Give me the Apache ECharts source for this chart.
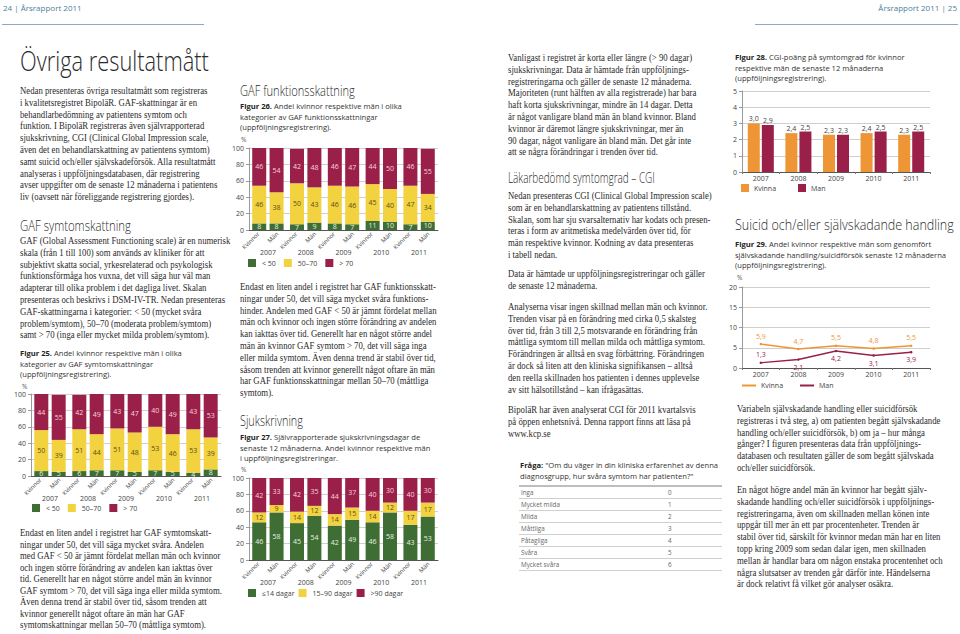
<!DOCTYPE html>
<html><head><meta charset="utf-8">
<script src="https://cdn.jsdelivr.net/npm/echarts@6/dist/echarts.min.js"></script>
<style>html,body{margin:0;padding:0;background:#fff}#c{width:960px;height:634px}</style>
</head><body><div id="c"></div>
<script>
// ---------------- DATA ----------------
const years = ['2007','2008','2009','2010','2011'];
const sexLabels = ['Kvinnor','Män','Kvinnor','Män','Kvinnor','Män','Kvinnor','Män','Kvinnor','Män'];
const gafNames = ['< 50','50–70','> 70'];
const sickNames = ['≤14 dagar','15–90 dagar','>90 dagar'];
const cgiNames = ['Kvinna','Man'];
const pctTicks = [0,20,40,60,80,100];

// Figur 25 – GAF symtomskattning (Kvinnor / Män per år)
const fig25KvinnorUnder50 = [6,6,7,7,4];
const fig25ManUnder50     = [5,7,5,5,8];
const fig25Kvinnor50to70  = [50,51,51,53,53];
const fig25Man50to70      = [39,44,48,46,39];
const fig25KvinnorOver70  = [44,42,43,40,43];
const fig25ManOver70      = [55,49,47,49,53];

// Figur 26 – GAF funktionsskattning
const fig26KvinnorUnder50 = [8,7,8,11,7];
const fig26ManUnder50     = [8,9,7,10,10];
const fig26Kvinnor50to70  = [46,50,46,45,47];
const fig26Man50to70      = [38,43,46,40,34];
const fig26KvinnorOver70  = [46,42,46,44,46];
const fig26ManOver70      = [54,48,47,50,55];

// Figur 27 – Sjukskrivningsdagar
const fig27KvinnorUpTo14  = [46,45,42,46,43];
const fig27ManUpTo14      = [58,54,49,58,53];
const fig27Kvinnor15to90  = [12,14,14,14,17];
const fig27Man15to90      = [9,12,15,12,17];
const fig27KvinnorOver90  = [42,42,44,40,40];
const fig27ManOver90      = [33,35,37,30,30];

// Figur 28 – CGI-poäng
const fig28Kvinna = [3.0,2.4,2.3,2.4,2.3];
const fig28Man    = [2.9,2.5,2.3,2.5,2.5];
const fig28Ticks  = [0,1,2,3,4,5];

// Figur 29 – Självskadande handling/suicidförsök (%)
const fig29Kvinna = [5.9,4.7,5.5,4.8,5.5];
const fig29Man    = [1.3,2.1,4.2,3.1,3.9];
const fig29Ticks  = [0,5,10,15,20];

// CGI-tabell
const cgiScaleLabels = ['Inga','Mycket milda','Milda','Måttliga','Påtagliga','Svåra','Mycket svåra'];
const cgiScaleValues = [0,1,2,3,4,5,6];

// ---------------- TEXT ----------------
const headerLeft = '24 | Årsrapport 2011';
const headerRight = 'Årsrapport 2011 | 25';
const titleMain = 'Övriga resultatmått';
const pLeft1 = ['Nedan presenteras övriga resultatmått som registreras','i kvalitetsregistret BipoläR. GAF-skattningar är en','behandlarbedömning av patientens symtom och','funktion. I BipoläR registreras även självrapporterad','sjukskrivning, CGI (Clinical Global Impression scale,','även det en behandlarskattning av patientens symtom)','samt suicid och/eller självskadeförsök. Alla resultatmått','analyseras i uppföljningsdatabasen, där registrering','avser uppgifter om de senaste 12 månaderna i patientens','liv (oavsett när föreliggande registrering gjordes).'];
const hGafSym = 'GAF symtomskattning';
const pLeft2 = ['GAF (Global Assessment Functioning scale) är en numerisk','skala (från 1 till 100) som används av kliniker för att','subjektivt skatta social, yrkesrelaterad och psykologisk','funktionsförmåga hos vuxna, det vill säga hur väl man','adapterar till olika problem i det dagliga livet. Skalan','presenteras och beskrivs i DSM-IV-TR. Nedan presenteras','GAF-skattningarna i kategorier: < 50 (mycket svåra','problem/symtom), 50–70 (moderata problem/symtom)','samt > 70 (inga eller mycket milda problem/symtom).'];
const cap25 = ['Andel kvinnor respektive män i olika','kategorier av GAF symtomskattningar','(uppföljningsregistrering).'];
const pLeft3 = ['Endast en liten andel i registret har GAF symtomskatt-','ningar under 50, det vill säga mycket svåra. Andelen','med GAF < 50 är jämnt fördelat mellan män och kvinnor','och ingen större förändring av andelen kan iakttas över','tid. Generellt har en något större andel män än kvinnor','GAF symtom > 70, det vill säga inga eller milda symtom.','Även denna trend är stabil över tid, såsom trenden att','kvinnor generellt något oftare än män har GAF','symtomskattningar mellan 50–70 (måttliga symtom).'];
const hGafFunk = 'GAF funktionsskattning';
const cap26 = ['Andel kvinnor respektive män i olika','kategorier av GAF funktionsskattningar','(uppföljningsregistrering).'];
const pMid1 = ['Endast en liten andel i registret har GAF funktionsskatt-','ningar under 50, det vill säga mycket svåra funktions-','hinder. Andelen med GAF < 50 är jämnt fördelat mellan','män och kvinnor och ingen större förändring av andelen','kan iakttas över tid. Generellt har en något större andel','män än kvinnor GAF symtom > 70, det vill säga inga','eller milda symtom. Även denna trend är stabil över tid,','såsom trenden att kvinnor generellt något oftare än män','har GAF funktionsskattningar mellan 50–70 (måttliga','symtom).'];
const hSjuk = 'Sjukskrivning';
const cap27 = ['Självrapporterade sjukskrivningsdagar de','senaste 12 månaderna. Andel kvinnor respektive män','i uppföljningsregistreringar.'];
const pThird1 = ['Vanligast i registret är korta eller längre (> 90 dagar)','sjukskrivningar. Data är hämtade från uppföljnings-','registreringarna och gäller de senaste 12 månaderna.','Majoriteten (runt hälften av alla registrerade) har bara','haft korta sjukskrivningar, mindre än 14 dagar. Detta','är något vanligare bland män än bland kvinnor. Bland','kvinnor är däremot längre sjukskrivningar, mer än','90 dagar, något vanligare än bland män. Det går inte','att se några förändringar i trenden över tid.'];
const hCgi = 'Läkarbedömd symtomgrad – CGI';
const pThird2 = ['Nedan presenteras CGI (Clinical Global Impression scale)','som är en behandlarskattning av patientens tillstånd.','Skalan, som har sju svarsalternativ har kodats och presen-','teras i form av aritmetiska medelvärden över tid, för','män respektive kvinnor. Kodning av data presenteras','i tabell nedan.'];
const pThird3 = ['Data är hämtade ur uppföljningsregistreringar och gäller','de senaste 12 månaderna.'];
const pThird4 = ['Analyserna visar ingen skillnad mellan män och kvinnor.','Trenden visar på en förändring med cirka 0,5 skalsteg','över tid, från 3 till 2,5 motsvarande en förändring från','måttliga symtom till mellan milda och måttliga symtom.','Förändringen är alltså en svag förbättring. Förändringen','är dock så liten att den kliniska signifikansen – alltså','den reella skillnaden hos patienten i dennes upplevelse','av sitt hälsotillstånd – kan ifrågasättas.'];
const pThird5 = ['BipoläR har även analyserat CGI för 2011 kvartalsvis','på öppen enhetsnivå. Denna rapport finns att läsa på','www.kcp.se'];
const questionLines = ['"Om du väger in din kliniska erfarenhet av denna','diagnosgrupp, hur svåra symtom har patienten?"'];
const cap28 = ['CGI-poäng på symtomgrad för kvinnor','respektive män de senaste 12 månaderna','(uppföljningsregistrering).'];
const hSuicid = 'Suicid och/eller självskadande handling';
const cap29 = ['Andel kvinnor respektive män som genomfört','självskadande handling/suicidförsök senaste 12 månaderna','(uppföljningsregistrering).'];
const pRight1 = ['Variabeln självskadande handling eller suicidförsök','registreras i två steg, a) om patienten begått självskadande','handling och/eller suicidförsök, b) om ja – hur många','gånger? I figuren presenteras data från uppföljnings-','databasen och resultaten gäller de som begått självskada','och/eller suicidförsök.'];
const pRight2 = ['En något högre andel män än kvinnor har begått själv-','skadande handling och/eller suicidförsök i uppföljnings-','registreringarna, även om skillnaden mellan könen inte','uppgår till mer än ett par procentenheter. Trenden är','stabil över tid, särskilt för kvinnor medan män har en liten','topp kring 2009 som sedan dalar igen, men skillnaden','mellan år handlar bara om någon enstaka procentenhet och','några slutsatser av trenden går därför inte. Händelserna','är dock relativt få vilket gör analyser osäkra.'];

// ---------------- STYLE ----------------
const SERIF = '"Liberation Serif", "DejaVu Serif", serif';
const SANS = '"Open Sans", "Liberation Sans", sans-serif';
const HEAD = '"Open Sans", "Liberation Sans", sans-serif';
const GREEN = '#3e6e34', YELLOW = '#f2d23f', MAROON = '#9b2049', ORANGE = '#ee9636';
const stackColors = [GREEN, YELLOW, MAROON];
const stackLabelColors = ['#e8f0e2', '#5e4f16', '#f6d3dc'];
const LH = 11.8, BODY = 9.3, BODYSX = 0.94, CAP = 7.6, CAPLH = 10.6;

const mctx = document.createElement('canvas').getContext('2d');
function fit(text, font, target) { mctx.font = font; return target / mctx.measureText(text).width; }

const graphics = [];
function body(x, firstCenter, lines, lh) {
  const h = lh || LH;
  graphics.push({type:'text', x:x, y:firstCenter - h/2, scaleX: BODYSX, silent:true,
    style:{text: lines.join('\n'), fontFamily: SERIF, fontSize: BODY, fill:'#2b2b2b', lineHeight: h, verticalAlign:'top', align:'left'}});
}
function heading(x, center, text, size, width) {
  const sx = fit(text, '300 ' + size + 'px ' + HEAD, width);
  graphics.push({type:'text', x:x, y:center, scaleX: sx, silent:true,
    style:{text:text, fontFamily: HEAD, fontWeight: 300, fontSize:size, fill:'#2a2a2a', verticalAlign:'middle', align:'left'}});
}
function caption(x, firstCenter, label, lines) {
  graphics.push({type:'text', x:x, y:firstCenter - CAPLH/2, silent:true,
    style:{text: '{b|' + label + '} ' + lines.join('\n'), fontFamily: SANS, fontSize: CAP, fill:'#333', lineHeight: CAPLH, verticalAlign:'top', align:'left',
      rich:{b:{fontFamily: SANS, fontSize: CAP, fontWeight:'bold', fill:'#222', lineHeight: CAPLH}}}});
}
function small(x, y, text, opt) {
  graphics.push({type:'text', x:x, y:y, silent:true,
    style:Object.assign({text:text, fontFamily: SANS, fontSize: 6.5, fill:'#555', verticalAlign:'middle', align:'left'}, opt||{})});
}
function hline(x1, x2, y, color, w) {
  graphics.push({type:'line', silent:true, shape:{x1:x1, y1:y, x2:x2, y2:y}, style:{stroke:color, lineWidth:w}});
}

// header
small(3, 7, headerLeft, {fontSize: 8, fill:'#4a8199'});
small(957, 7, headerRight, {fontSize: 8, fill:'#4a8199', align:'right'});
hline(2, 204, 24.5, '#86aebf', 1.2);
hline(755, 958, 24.5, '#86aebf', 1.2);

// left column
heading(20, 61, titleMain, 27, 189);
body(20, 91, pLeft1);
heading(20, 226, hGafSym, 14, 111);
body(20, 241, pLeft2);
caption(20, 353, 'Figur 25.', cap25);
small(22, 386, '%');
body(20, 533, pLeft3, 11.5);

// middle column
heading(240, 90, hGafFunk, 14, 115);
caption(240, 106, 'Figur 26.', cap26);
small(241, 139, '%');
body(240, 287, pMid1);
heading(240, 421, hSjuk, 14, 63);
caption(240, 437, 'Figur 27.', cap27);
small(241, 469, '%');

// third column
body(508, 58, pThird1);
heading(508, 178, hCgi, 14, 147);
body(508, 196, pThird2);
body(508, 274, pThird3);
body(508, 307, pThird4);
body(508, 410, pThird5);
caption(520, 465, 'Fråga:', questionLines);
hline(519, 722, 486, '#a8a8a8', 1.6);
cgiScaleLabels.forEach((l, i) => {
  small(521, 492 + 12*i, l, {fill:'#666', fontSize: 6.3});
  small(668, 492 + 12*i, String(cgiScaleValues[i]), {fill:'#666', fontSize: 6.3});
  hline(519, 722, 498.5 + 12*i, '#c4c4c4', 0.8);
});

// right column
caption(735, 57, 'Figur 28.', cap28);
heading(735, 225, hSuicid, 14, 219);
caption(735, 244, 'Figur 29.', cap29);
small(737, 277, '%');
body(737, 409, pRight1);
body(737, 490, pRight2);

// ---------------- CHARTS ----------------
const grids = [
  {left:31, top:394, width:190, height:82},   // fig 25
  {left:249, top:148, width:189, height:82},  // fig 26
  {left:249, top:478, width:189, height:82},  // fig 27
  {left:742, top:91, width:188, height:81},   // fig 28
  {left:742, top:287, width:188, height:81}   // fig 29
].map(g => Object.assign({containLabel:false, outerBoundsMode:'none'}, g));

const xAxes = [], yAxes = [], series = [], legends = [];
const axisText = {fontFamily: SANS, fontSize: 7, color:'#444'};

function pctYAxis(gi) {
  yAxes.push({type:'value', gridIndex:gi, min:pctTicks[0], max:pctTicks[pctTicks.length-1], interval:20,
    axisLine:{show:true, lineStyle:{color:'#9a9a9a', width:1}},
    axisTick:{show:true, length:3, lineStyle:{color:'#9a9a9a'}},
    axisLabel:Object.assign({margin:5}, axisText),
    splitLine:{show:true, lineStyle:{color:'#cfcfcf', width:1}}});
  return yAxes.length - 1;
}

function stackedFigure(gi, key, names, kArrs, mArrs, legendPos, legendGap) {
  xAxes.push({type:'category', gridIndex:gi, data:years, position:'bottom',
    axisLine:{show:true, lineStyle:{color:'#555', width:1}}, axisTick:{show:false},
    axisLabel:Object.assign({margin:19, interval:0}, axisText)});
  const xi = xAxes.length - 1;
  xAxes.push({type:'category', gridIndex:gi, data:sexLabels, position:'bottom',
    axisLine:{show:false}, axisTick:{show:false}, splitLine:{show:false},
    axisLabel:Object.assign({margin:3, interval:0, rotate:45}, axisText, {fontSize:6})});
  const yi = pctYAxis(gi);
  for (let c = 0; c < 3; c++) {
    [['K', kArrs[c]], ['M', mArrs[c]]].forEach(([s, arr]) => {
      series.push({type:'bar', name:names[c], xAxisIndex:xi, yAxisIndex:yi, stack:key + s, data:arr,
        barWidth:14, barGap:'24%', itemStyle:{color:stackColors[c]},
        label:{show:true, position:'inside', fontFamily:SANS, fontSize:7, color:stackLabelColors[c]},
        emphasis:{disabled:true}});
    });
  }
  legends.push({data:names, left:legendPos[0], top:legendPos[1], orient:'horizontal', icon:'rect',
    itemWidth:8, itemHeight:8, itemGap:legendGap, selectedMode:false, padding:0,
    textStyle:{fontFamily:SANS, fontSize:7, color:'#444', padding:[0,0,0,1]}});
}

stackedFigure(0, 'f25', gafNames,
  [fig25KvinnorUnder50, fig25Kvinnor50to70, fig25KvinnorOver70],
  [fig25ManUnder50, fig25Man50to70, fig25ManOver70], [32, 504], 8);
stackedFigure(1, 'f26', gafNames,
  [fig26KvinnorUnder50, fig26Kvinnor50to70, fig26KvinnorOver70],
  [fig26ManUnder50, fig26Man50to70, fig26ManOver70], [248, 259], 8);
stackedFigure(2, 'f27', sickNames,
  [fig27KvinnorUpTo14, fig27Kvinnor15to90, fig27KvinnorOver90],
  [fig27ManUpTo14, fig27Man15to90, fig27ManOver90], [248, 589], 4);

const comma = p => String(Number(p.value).toFixed(1)).replace('.', ',');

// Figur 28
xAxes.push({type:'category', gridIndex:3, data:years,
  axisLine:{show:true, lineStyle:{color:'#555'}}, axisTick:{show:true, length:2, lineStyle:{color:'#777'}},
  axisLabel:Object.assign({margin:3}, axisText)});
yAxes.push({type:'value', gridIndex:3, min:fig28Ticks[0], max:fig28Ticks[fig28Ticks.length-1], interval:1,
  axisLine:{show:true, lineStyle:{color:'#9a9a9a'}}, axisTick:{show:true, length:3, lineStyle:{color:'#9a9a9a'}},
  axisLabel:Object.assign({margin:5}, axisText), splitLine:{show:true, lineStyle:{color:'#cfcfcf'}}});
[[cgiNames[0], fig28Kvinna, ORANGE], [cgiNames[1], fig28Man, MAROON]].forEach(([n, arr, col]) => {
  series.push({type:'bar', name:n, xAxisIndex:xAxes.length-1, yAxisIndex:yAxes.length-1, data:arr,
    barWidth:12, barGap:'17%', itemStyle:{color:col},
    label:{show:true, position:'top', distance:1, fontFamily:SANS, fontSize:7, color:'#444', formatter:comma},
    emphasis:{disabled:true}});
});
legends.push({data:cgiNames, left:741, top:184, icon:'rect', itemWidth:8, itemHeight:8, itemGap:22,
  selectedMode:false, padding:0, textStyle:{fontFamily:SANS, fontSize:7, color:'#444'}});

// Figur 29
xAxes.push({type:'category', gridIndex:4, data:years, boundaryGap:true,
  axisLine:{show:true, lineStyle:{color:'#555'}}, axisTick:{show:true, length:2, lineStyle:{color:'#777'}},
  axisLabel:Object.assign({margin:3}, axisText)});
yAxes.push({type:'value', gridIndex:4, min:fig29Ticks[0], max:fig29Ticks[fig29Ticks.length-1], interval:5,
  axisLine:{show:true, lineStyle:{color:'#9a9a9a'}}, axisTick:{show:true, length:3, lineStyle:{color:'#9a9a9a'}},
  axisLabel:Object.assign({margin:5}, axisText), splitLine:{show:true, lineStyle:{color:'#cfcfcf'}}});
[[cgiNames[0], fig29Kvinna, ORANGE, 'top'], [cgiNames[1], fig29Man, MAROON, 'bottom']].forEach(([n, arr, col, pos]) => {
  series.push({type:'line', name:n, xAxisIndex:xAxes.length-1, yAxisIndex:yAxes.length-1,
    data:arr.map((v, i) => ({value:v, label:{position: (pos === 'bottom' && i === 0) ? 'top' : pos}})),
    symbol:'circle', symbolSize:2.5, lineStyle:{color:col, width:1.4}, itemStyle:{color:col},
    label:{show:true, fontFamily:SANS, fontSize:7, color:col, distance:3, formatter:comma},
    emphasis:{disabled:true}});
});
legends.push({data:cgiNames, left:742, top:382, icon:'rect', itemWidth:14, itemHeight:2, itemGap:17,
  selectedMode:false, padding:0, textStyle:{fontFamily:SANS, fontSize:7, color:'#444'}});

const chart = echarts.init(document.getElementById('c'), null, {renderer:'svg', width:960, height:634});
chart.setOption({
  animation:false,
  backgroundColor:'#ffffff',
  tooltip:{show:false},
  grid:grids, xAxis:xAxes, yAxis:yAxes, legend:legends, series:series,
  graphic:{elements:graphics}
});
</script>
</body></html>
